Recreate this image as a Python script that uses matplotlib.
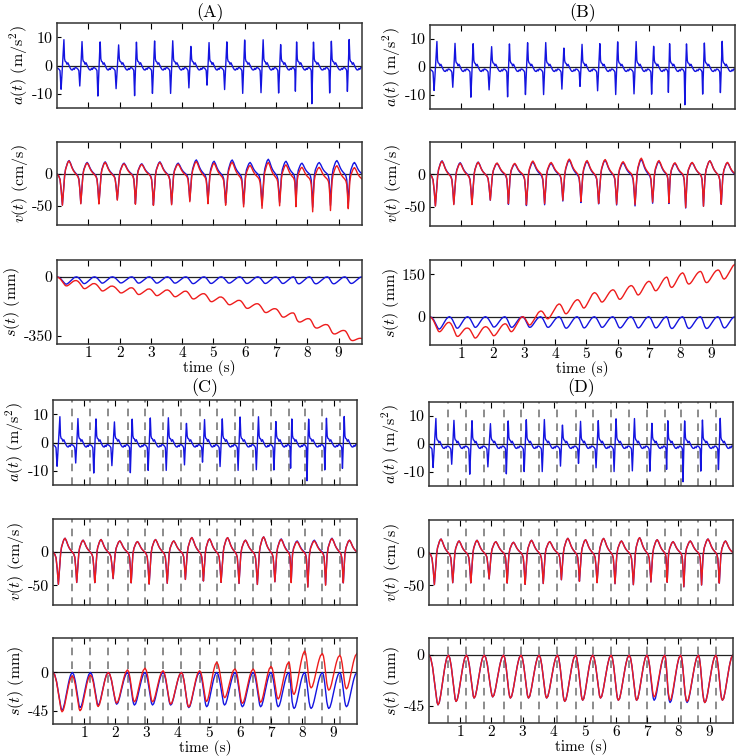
import matplotlib.pyplot as plt
import numpy as np

plt.rcParams['font.family'] = 'serif'
plt.rcParams['font.serif'] = ['cmr10', 'DejaVu Serif']
plt.rcParams['mathtext.fontset'] = 'cm'
plt.rcParams['axes.unicode_minus'] = False

# ---- data ----
# time of each positive acceleration spike (17 steps) and of the dashed marks
peak_t = [0.22, 0.80, 1.38, 1.97, 2.54, 3.12, 3.70, 4.28, 4.86, 5.43, 6.00, 6.59, 7.15, 7.66, 8.20, 8.77, 9.34]
zupt_t = [0.62, 1.20, 1.77, 2.39, 2.95, 3.53, 4.12, 4.70, 5.25, 5.84, 6.42, 6.99, 7.56, 8.07, 8.64, 9.20]
t_end = 9.75

# acceleration spikes (m/s^2)
a_pos = [9.5, 8.5, 8.7, 7.3, 8.5, 9.0, 8.8, 7.1, 8.2, 8.5, 9.5, 9.1, 7.6, 8.5, 8.5, 9.0, 9.3]
a_neg = [-8.5, -7.5, -10.8, -8.2, -11.2, -10.3, -10.0, -8.3, -7.0, -8.7, -10.3, -9.8, -10.0, -9.6, -13.5, -10.1, -9.6]

# reference velocity (cm/s): dip and hump of each step
v_min = [-49, -46, -47, -41, -47, -49, -48, -42, -44, -46, -48, -50, -46, -47, -54, -50, -48]
v_max = [21, 18, 19, 17, 16, 19, 17, 22, 20, 22, 18, 23, 20, 17, 18, 21, 18]

# reference displacement (mm): depth of each step
s_min = [-44, -41, -38, -37, -38, -38, -38, -41, -40, -38, -40, -40, -40, -42, -42, -42, -40]
s_min_d = [-44, -41, -38, -37, -38, -38, -38, -41, -40, -38, -40, -40, -37, -40, -41, -42, -40]

# velocity error of the estimate at t=0, each dashed mark and the end (cm/s)
v_off_A = [0, -1, -1, -1, -1, -1, -1, -2, -3, -3, -4, -5, -5, -6, -7, -8, -8, -8]
v_off_B = [0, -1, -1, 0, 1, 1, 2, 1, 2, 1, 1, 2, 2, 1, 1, 0, 0, 1]
v_off_C = [0, 0, 0, 0, 0, 0, 0, 0, 0, 0, 0, 0, 0, -1, -1, -1, 0, 0]

# displacement drift of the estimate at the same instants (mm)
drift_A = [0, -22, -40, -55, -65, -72, -78, -85, -100, -120, -140, -160, -190, -215, -250, -285, -320, -368]
drift_B = [0, -20, -40, -35, -25, 0, 20, 45, 60, 85, 95, 110, 125, 140, 155, 160, 165, 185]
drift_C = [0, -4, -3, 0, 3, 5, 2, 0, 2, 12, 4, 4, 7, 12, 25, 22, 20, 22]

# one-step shapes (seconds from the spike)
a_tau = [-0.16, -0.12, -0.09, -0.065, -0.035, 0.0, 0.02, 0.04, 0.07, 0.10, 0.13, 0.16, 0.20, 0.24, 0.28, 0.31, 0.34, 0.37, 0.41]
a_shape = [-0.8, -1.2, -1.8, 0, -1.0, 0, 2.5, 1.5, 1.3, 0.4, 1.0, 0.3, -0.8, -1.5, -1.6, -1.0, -1.4, -0.7, -0.8]
v_tau = [-0.16, -0.12, -0.09, -0.065, -0.035, -0.01, 0.02, 0.05, 0.09, 0.13, 0.17, 0.21, 0.25, 0.29, 0.33, 0.37, 0.41]
v_shape = [0.0, -3.0, -8.0, -22.0, -48.0, -28.0, -4.0, 6.0, 12.0, 17.0, 19.0, 16.0, 11.0, 7.0, 4.0, 2.0, 0.0]
s_tau = [-0.16, -0.12, -0.08, -0.04, 0.0, 0.04, 0.07, 0.11, 0.15, 0.20, 0.25, 0.30, 0.35, 0.41]
s_shape = [0.0, 0.06, 0.22, 0.48, 0.76, 0.95, 1.0, 0.96, 0.84, 0.64, 0.42, 0.22, 0.07, 0.0]

t = np.linspace(0, t_end, 3000)
bounds = np.r_[0.0, zupt_t, t_end]


def steps(tau, values):
    kt, kv = [], []
    for k, p in enumerate(peak_t):
        pre = (p - bounds[k]) / 0.16
        post = (bounds[k + 1] - p) / 0.41
        for tj, vj in zip(tau, values[k]):
            kt.append(p + tj * (pre if tj < 0 else post))
            kv.append(vj)
    return np.interp(t, kt, kv)


a_vals = []
for k in range(len(peak_t)):
    row = list(a_shape)
    row[3] = a_neg[k]
    row[5] = a_pos[k]
    a_vals.append(row)
acc = steps(a_tau, a_vals)

v_vals = [[x * v_min[k] / -48 if x < 0 else x * v_max[k] / 19 for x in v_shape]
          for k in range(len(peak_t))]
v_ref = steps(v_tau, v_vals)

s_ref = steps(s_tau, [[x * s_min[k] for x in s_shape] for k in range(len(peak_t))])
s_red_d = steps(s_tau, [[x * s_min_d[k] for x in s_shape] for k in range(len(peak_t))])

panels = {
    'A': dict(x=(57, 362), rows=[(23, 108), (142, 225), (260, 344)],
              v_red=v_ref + np.interp(t, bounds, v_off_A),
              s_red=s_ref + np.interp(t, bounds, drift_A),
              slim=(-400, 100), sticks=[-350, 0], dashed=False, title_y=13),
    'B': dict(x=(430, 735), rows=[(25, 109), (142, 226), (260, 345)],
              v_red=v_ref + np.interp(t, bounds, v_off_B),
              s_red=s_ref + np.interp(t, bounds, drift_B),
              slim=(-100, 200), sticks=[0, 150], dashed=False, title_y=13),
    'C': dict(x=(53, 357), rows=[(400, 485), (519, 605), (638, 724)],
              v_red=v_ref + np.interp(t, bounds, v_off_C),
              s_red=s_ref + np.interp(t, bounds, drift_C),
              slim=(-60, 40), sticks=[-45, 0], dashed=True, title_y=388),
    'D': dict(x=(429, 733), rows=[(402, 486), (520, 605), (638, 723)],
              v_red=v_ref, s_red=s_red_d,
              slim=(-60, 15), sticks=[-45, 0], dashed=True, title_y=388),
}

W, H = 739, 756
blue = '#1414e0'
red = '#ee1c1c'

fig = plt.figure(figsize=(W / 100, H / 100), dpi=100)

for name, p in panels.items():
    x0, x1 = p['x']
    axs = []
    for top, bot in p['rows']:
        axs.append(fig.add_axes([x0 / W, 1 - bot / H, (x1 - x0) / W, (bot - top) / H]))
    ax_a, ax_v, ax_s = axs

    ax_a.plot(t, acc, color=blue, lw=1.0)
    ax_a.set_ylim(-15, 15)
    ax_a.set_yticks([-10, 0, 10])
    ax_a.set_yticklabels(['-10', '0', '10'])
    ax_a.set_ylabel(r'$a(t)$ (m/s$^2$)', fontsize=11.5, labelpad=1)

    ax_v.plot(t, v_ref, color=blue, lw=1.0)
    ax_v.plot(t, p['v_red'], color=red, lw=1.0)
    ax_v.set_ylim(-80, 50)
    ax_v.set_yticks([-50, 0])
    ax_v.set_yticklabels(['-50', '0'])
    ax_v.set_ylabel(r'$v(t)$ (cm/s)', fontsize=11.5, labelpad=1)

    ax_s.plot(t, s_ref, color=blue, lw=1.0)
    ax_s.plot(t, p['s_red'], color=red, lw=1.0)
    ax_s.set_ylim(*p['slim'])
    ax_s.set_yticks(p['sticks'])
    ax_s.set_yticklabels([str(v) for v in p['sticks']])
    ax_s.set_ylabel(r'$s(t)$ (mm)', fontsize=11.5, labelpad=1)
    ax_s.set_xlabel('time (s)', fontsize=11, labelpad=0.5)

    for ax in axs:
        ax.axhline(0, color='#222222', lw=0.9, zorder=1.5)
        if p['dashed']:
            for z in zupt_t:
                ax.axvline(z, color='#6e6e6e', lw=1.1, ls=(0, (5, 4)), zorder=0.5)
        ax.set_xlim(0, t_end)
        ax.set_xticks(range(1, 10))
        ax.tick_params(axis='x', direction='in', top=True, bottom=True, length=4,
                       width=0.8, labelsize=11, pad=1.5)
        ax.tick_params(axis='y', direction='in', left=True, right=False, length=3,
                       width=0.8, labelsize=11.5, pad=3)
        for sp in ax.spines.values():
            sp.set_linewidth(1.1)
            sp.set_color('#333333')
    for ax in (ax_a, ax_v):
        ax.set_xticklabels([])
    ax_s.set_xticklabels([str(i) for i in range(1, 10)])

    fig.text((x0 + x1) / 2 / W, 1 - p['title_y'] / H, '(%s)' % name,
             ha='center', va='center', fontsize=13)

fig.savefig('out.png', dpi=100)
